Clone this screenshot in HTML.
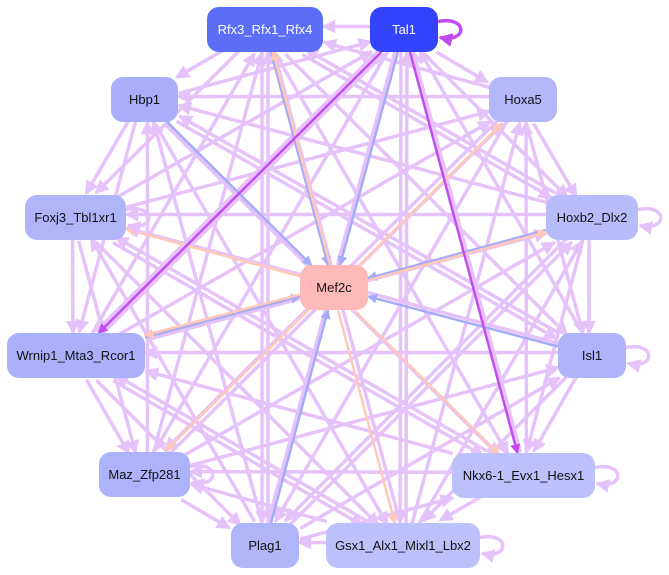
<!DOCTYPE html>
<html><head><meta charset="utf-8"><style>
body{margin:0;background:#fff;width:669px;height:575px;overflow:hidden;position:relative;font-family:"Liberation Sans",sans-serif}
svg{position:absolute;left:0;top:0}
.n{position:absolute;border-radius:12px;display:flex;align-items:center;justify-content:center;font-size:13px;color:#111;box-sizing:border-box}
</style></head><body>
<svg id="g" width="669" height="575"></svg>
<div id="nodes"></div>
<script>
var N={
R:[207,7,116,45,"Rfx3_Rfx1_Rfx4","#5c6ef8","#fff"],
T:[370,7,68,45,"Tal1","#3344fc","#fff"],
H:[111,77,67,45,"Hbp1","#a9aefa"],
X:[489,77,68,45,"Hoxa5","#b4b8fb"],
F:[25,195,101,45,"Foxj3_Tbl1xr1","#b0b5fa"],
D:[546,195,92,45,"Hoxb2_Dlx2","#b8bcfb"],
M:[300,265,68,45,"Mef2c","#ffb9b9"],
W:[7,333,138,45,"Wrnip1_Mta3_Rcor1","#abb0fa"],
I:[558,333,68,45,"Isl1","#aeb3fa"],
Z:[99,452,91,45,"Maz_Zfp281","#adb2fa"],
K:[452,453,143,45,"Nkx6-1_Evx1_Hesx1","#bcc0fb"],
P:[231,523,68,45,"Plag1","#b0b5fa"],
G:[326,523,154,45,"Gsx1_Alx1_Mixl1_Lbx2","#bcc0fb"]};
var svg=document.getElementById('g'),ns="http://www.w3.org/2000/svg";
var defs=document.createElementNS(ns,'defs');svg.appendChild(defs);
function mk(c){var m=document.createElementNS(ns,'marker');m.setAttribute('id','m'+c.slice(1));m.setAttribute('markerWidth','4');m.setAttribute('markerHeight','4');m.setAttribute('refX','3.5');m.setAttribute('refY','2');m.setAttribute('orient','auto');m.setAttribute('markerUnits','strokeWidth');m.innerHTML='<path d="M0,0L4,2L0,4z" fill="'+c+'"/>';defs.appendChild(m);}
["#e6c2fb","#a4abf8","#ffc8b8","#c24cf2"].forEach(mk);
function c(k){var n=N[k];return [n[0]+n[2]/2,n[1]+n[3]/2];}
function clip(k,x,y,dx,dy){var n=N[k],hw=n[2]/2,hh=n[3]/2;var t=Math.min(Math.abs(dx)>0?hw/Math.abs(dx):1e9,Math.abs(dy)>0?hh/Math.abs(dy):1e9);return [x+dx*t,y+dy*t];}
function edge(a,b,col,w,off){var A=c(a),B=c(b);var dx=B[0]-A[0],dy=B[1]-A[1];var L=Math.hypot(dx,dy);var ox=-dy/L*(off||0),oy=dx/L*(off||0);
var s=clip(a,A[0]+ox,A[1]+oy,dx,dy),e=clip(b,B[0]+ox,B[1]+oy,-dx,-dy);
var l=document.createElementNS(ns,'line');l.setAttribute('x1',s[0]);l.setAttribute('y1',s[1]);l.setAttribute('x2',e[0]);l.setAttribute('y2',e[1]);l.setAttribute('stroke',col);l.setAttribute('stroke-width',w);l.setAttribute('marker-end','url(#m'+col.slice(1)+')');svg.appendChild(l);}
var outer="RTHXFDWIZKPG".split("");
for(var i=0;i<outer.length;i++)for(var j=0;j<outer.length;j++){if(i==j)continue;if((i*7+j*3)%5<3)edge(outer[i],outer[j],"#e6c2fb",3.5,3);}
["H","I","P","W","R","D","T"].forEach(function(k){edge(k,"M","#a4abf8",2.5,0);});
["F","W","Z","X","K","G","R","D"].forEach(function(k){edge("M",k,"#ffc8b8",2.5,2);});
edge("T","W","#c24cf2",2.5,0);edge("T","K","#c24cf2",2.5,0);
[["T","#c24cf2"],["D","#e6c2fb"],["I","#e6c2fb"],["K","#e6c2fb"],["G","#e6c2fb"],["F","#e6c2fb"],["Z","#e6c2fb"]].forEach(function(p){var n=N[p[0]];var x=n[0]+n[2],y=n[1]+n[3]/2;var pa=document.createElementNS(ns,'path');pa.setAttribute('d','M'+x+','+(y-8)+' C'+(x+30)+','+(y-14)+' '+(x+30)+','+(y+14)+' '+(x+2)+','+(y+8));pa.setAttribute('fill','none');pa.setAttribute('stroke',p[1]);pa.setAttribute('stroke-width',3.5);pa.setAttribute('marker-end','url(#m'+p[1].slice(1)+')');svg.appendChild(pa);});
var h="";for(var k in N){var n=N[k];h+='<div class="n" style="left:'+n[0]+'px;top:'+n[1]+'px;width:'+n[2]+'px;height:'+n[3]+'px;background:'+n[5]+';color:'+(n[6]||'#111')+'">'+n[4]+'</div>';}
document.getElementById('nodes').innerHTML=h;
</script>
</body></html>
